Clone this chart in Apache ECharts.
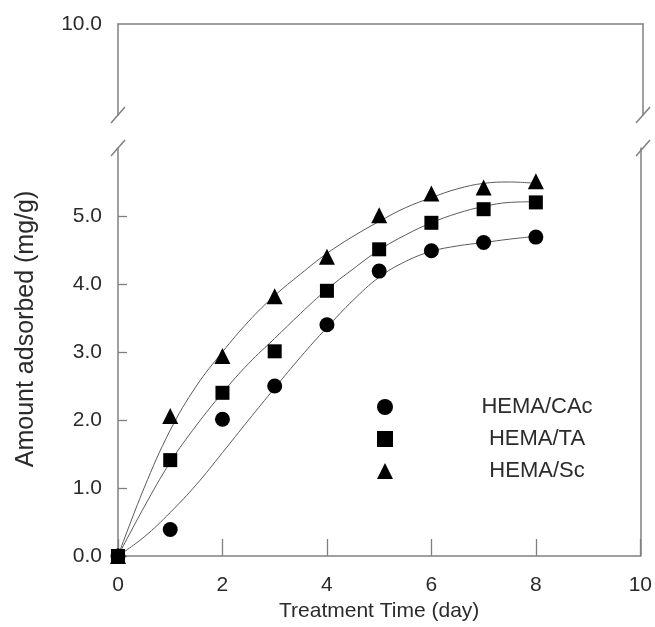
<!DOCTYPE html>
<html>
<head>
<meta charset="utf-8">
<script src="https://cdn.jsdelivr.net/npm/echarts@6/dist/echarts.min.js"></script>
<style>
  html, body { margin: 0; padding: 0; background: #ffffff; }
  #chart { width: 655px; height: 627px; }
</style>
</head>
<body>
<div id="chart"></div>
<script>
// Measured adsorption (mg/g) against treatment time (day)
const days = [0, 1, 2, 3, 4, 5, 6, 7, 8];
const cacValues = [0, 0.39, 2.01, 2.50, 3.40, 4.19, 4.49, 4.61, 4.69];
const taValues  = [0, 1.41, 2.40, 3.01, 3.90, 4.51, 4.90, 5.10, 5.20];
const scValues  = [0, 2.06, 2.94, 3.82, 4.40, 5.01, 5.33, 5.42, 5.51];

// Fitted curves, sampled every half day
const fitDays = [0, 0.5, 1, 1.5, 2, 2.5, 3, 3.5, 4, 4.5, 5, 5.5, 6, 6.5, 7, 7.5, 8];
const cacFit = [0, 0.28, 0.64, 1.05, 1.52, 2.00, 2.47, 2.93, 3.36, 3.76, 4.10, 4.33, 4.48, 4.56, 4.61, 4.66, 4.70];
const taFit  = [0, 0.72, 1.38, 1.92, 2.40, 2.83, 3.20, 3.57, 3.92, 4.22, 4.50, 4.72, 4.90, 5.04, 5.14, 5.20, 5.21];
const scFit  = [0, 1.00, 1.85, 2.50, 3.00, 3.45, 3.83, 4.15, 4.45, 4.70, 4.92, 5.12, 5.27, 5.40, 5.48, 5.50, 5.48];

const seriesNames = ['HEMA/CAc', 'HEMA/TA', 'HEMA/Sc'];
const xTicks = [0, 2, 4, 6, 8, 10];
const yTicks = [0, 1, 2, 3, 4, 5];
const yTopTick = [10];

// Layout of the two stacked panels (broken y axis)
const PLOT_LEFT = 118, PLOT_RIGHT_GAP = 12, CANVAS_W = 655;
const LOWER_TOP = 148, LOWER_BOTTOM_GAP = 67;
const UPPER_TOP = 24, UPPER_HEIGHT = 91;

const FONT = "'Liberation Sans', Arial, sans-serif";
const AXIS_COLOR = '#808080';
const TEXT_COLOR = '#2b2b2b';
const MARK_COLOR = '#000000';
const CURVE_COLOR = '#5a5a5a';

const pairs = (xs, ys) => xs.map((x, i) => [x, ys[i]]);

const chart = echarts.init(document.getElementById('chart'), null, { renderer: 'canvas' });

const axisLineStyle = { lineStyle: { color: AXIS_COLOR, width: 1.5 } };

// Break marks drawn across both vertical frame lines
const plotRightX = CANVAS_W - PLOT_RIGHT_GAP;
const breakYs = [UPPER_TOP + UPPER_HEIGHT, LOWER_TOP];
const breakMarks = [];
[PLOT_LEFT, plotRightX].forEach(function (x) {
  breakYs.forEach(function (y) {
    breakMarks.push({
      type: 'line',
      shape: { x1: x - 7, y1: y + 8, x2: x + 7, y2: y - 8 },
      style: { stroke: AXIS_COLOR, lineWidth: 1.5 },
      z: 10
    });
  });
});

const option = {
  backgroundColor: '#ffffff',
  animation: false,
  textStyle: { fontFamily: FONT },
  grid: [
    { left: PLOT_LEFT, right: PLOT_RIGHT_GAP, top: LOWER_TOP, bottom: LOWER_BOTTOM_GAP },
    { left: PLOT_LEFT, right: PLOT_RIGHT_GAP, top: UPPER_TOP, height: UPPER_HEIGHT }
  ],
  xAxis: [
    {
      gridIndex: 0, type: 'value', min: 0, max: 10, interval: 2,
      axisLine: axisLineStyle,
      axisTick: { show: true, inside: true, length: 17, customValues: xTicks, lineStyle: { color: AXIS_COLOR, width: 1.3 } },
      axisLabel: { customValues: xTicks, fontSize: 21, color: TEXT_COLOR, margin: 19, fontFamily: FONT },
      splitLine: { show: false },
      name: 'Treatment Time (day)', nameLocation: 'middle', nameGap: 45,
      nameTextStyle: { fontSize: 21, color: TEXT_COLOR, fontFamily: FONT }
    },
    {
      gridIndex: 1, type: 'value', min: 0, max: 10, position: 'top',
      axisLine: axisLineStyle, axisTick: { show: false }, axisLabel: { show: false },
      splitLine: { show: false }
    }
  ],
  yAxis: [
    {
      gridIndex: 0, type: 'value', min: 0, max: 6, interval: 1,
      axisLine: axisLineStyle,
      axisTick: { show: true, inside: true, length: 9, customValues: yTicks, lineStyle: { color: AXIS_COLOR, width: 1.3 } },
      axisLabel: {
        customValues: yTicks, fontSize: 21, color: TEXT_COLOR, margin: 16, fontFamily: FONT,
        formatter: function (v) { return v.toFixed(1); }
      },
      splitLine: { show: false },
      name: 'Amount adsorbed (mg/g)', nameLocation: 'middle', nameGap: 79,
      nameTextStyle: { fontSize: 25, color: TEXT_COLOR, fontFamily: FONT, padding: [0, 0, 0, 46] }
    },
    {
      gridIndex: 0, type: 'value', min: 0, max: 6, position: 'right',
      axisLine: axisLineStyle, axisTick: { show: false }, axisLabel: { show: false },
      splitLine: { show: false }
    },
    {
      gridIndex: 1, type: 'value', min: 9, max: 10,
      axisLine: axisLineStyle, axisTick: { show: false },
      axisLabel: {
        customValues: yTopTick, fontSize: 21, color: TEXT_COLOR, margin: 16, fontFamily: FONT,
        formatter: function (v) { return v.toFixed(1); }
      },
      splitLine: { show: false }
    },
    {
      gridIndex: 1, type: 'value', min: 9, max: 10, position: 'right',
      axisLine: axisLineStyle, axisTick: { show: false }, axisLabel: { show: false },
      splitLine: { show: false }
    }
  ],
  legend: {
    data: seriesNames,
    orient: 'vertical',
    left: 372, top: 391,
    itemWidth: 16, itemHeight: 16, itemGap: 10,
    formatter: function (name) { return '{t|' + name + '}'; },
    textStyle: {
      rich: { t: { width: 278, align: 'center', fontSize: 22, lineHeight: 22, color: TEXT_COLOR, fontFamily: FONT } }
    }
  },
  graphic: breakMarks,
  series: [
    { name: 'fit CAc', type: 'line', xAxisIndex: 0, yAxisIndex: 0, data: pairs(fitDays, cacFit), smooth: 0.4,
      showSymbol: false, silent: true, lineStyle: { color: CURVE_COLOR, width: 1 }, z: 1 },
    { name: 'fit TA', type: 'line', xAxisIndex: 0, yAxisIndex: 0, data: pairs(fitDays, taFit), smooth: 0.4,
      showSymbol: false, silent: true, lineStyle: { color: CURVE_COLOR, width: 1 }, z: 1 },
    { name: 'fit Sc', type: 'line', xAxisIndex: 0, yAxisIndex: 0, data: pairs(fitDays, scFit), smooth: 0.4,
      showSymbol: false, silent: true, lineStyle: { color: CURVE_COLOR, width: 1 }, z: 1 },
    { name: seriesNames[0], type: 'scatter', xAxisIndex: 0, yAxisIndex: 0, data: pairs(days, cacValues),
      symbol: 'circle', symbolSize: 15, itemStyle: { color: MARK_COLOR, opacity: 1 }, z: 3 },
    { name: seriesNames[1], type: 'scatter', xAxisIndex: 0, yAxisIndex: 0, data: pairs(days, taValues),
      symbol: 'rect', symbolSize: 14, itemStyle: { color: MARK_COLOR, opacity: 1 }, z: 3 },
    { name: seriesNames[2], type: 'scatter', xAxisIndex: 0, yAxisIndex: 0, data: pairs(days, scValues),
      symbol: 'triangle', symbolSize: 16, itemStyle: { color: MARK_COLOR, opacity: 1 }, z: 3 }
  ]
};

chart.setOption(option);
</script>
</body>
</html>
